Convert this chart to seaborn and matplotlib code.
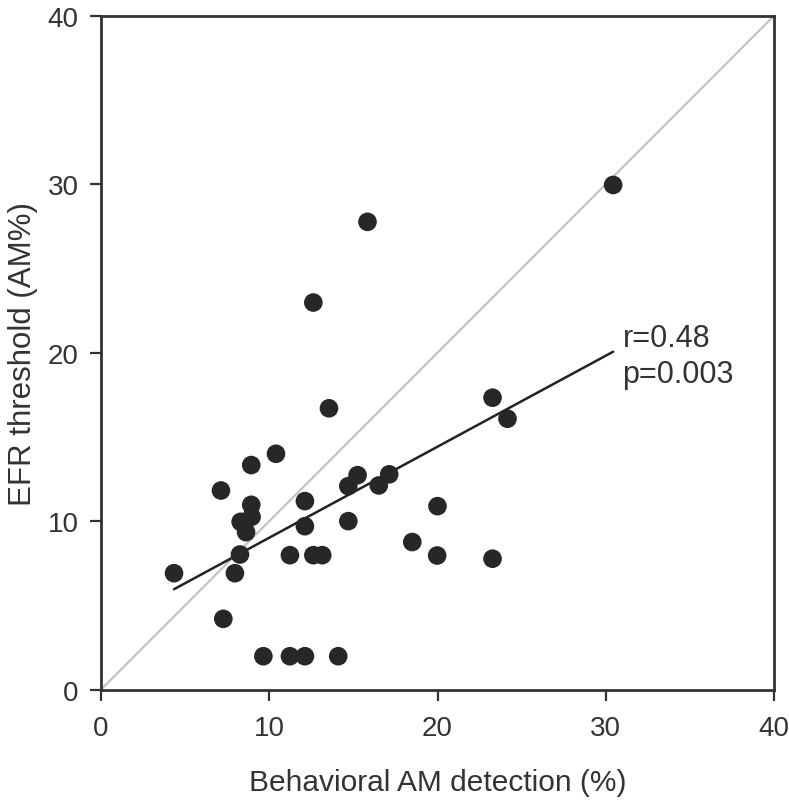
import numpy as np
import pandas as pd
import seaborn as sns
import matplotlib
matplotlib.use('Agg')
import matplotlib.pyplot as plt

# behavioral AM detection (%) vs EFR threshold (AM%)
behav = [13.55, 10.4, 8.93, 7.13, 8.93, 8.95, 8.3, 8.62, 8.26, 4.34,
         7.96, 7.27, 9.65, 11.23, 12.12, 14.1, 12.12, 12.12, 11.23, 12.62,
         13.15, 14.7, 14.7, 15.25, 16.51, 17.13, 18.5, 20.0, 19.98, 23.27,
         24.16, 23.27, 12.62, 15.84, 30.44]
efr = [16.7, 14.0, 13.33, 11.82, 10.97, 10.26, 9.96, 9.35, 8.02, 6.91,
       6.91, 4.2, 1.98, 1.98, 1.98, 1.98, 11.19, 9.7, 7.98, 7.98,
       7.98, 10.0, 12.08, 12.73, 12.12, 12.78, 8.76, 10.89, 7.96, 17.33,
       16.08, 7.77, 22.98, 27.77, 29.96]
ticks = [0, 10, 20, 30, 40]
stats_text = 'r=0.48\np=0.003'

df = pd.DataFrame({'behav': behav, 'efr': efr})

sns.set_style('ticks')
plt.rcParams['font.family'] = ['Liberation Sans', 'DejaVu Sans']
dark = '#333333'

fig = plt.figure(figsize=(7.89, 8.03), dpi=100)
ax = fig.add_axes([0.128, 0.140, 0.853, 0.839])

# identity line
ax.plot(ticks, ticks, color='#c4c4c4', lw=1.6, zorder=1)

sns.regplot(data=df, x='behav', y='efr', ax=ax, ci=None,
            scatter_kws=dict(s=180, color='#272727', edgecolor='none', alpha=1, zorder=3),
            line_kws=dict(color='#222222', lw=1.8, zorder=2))

ax.set_xlim(0, 40)
ax.set_ylim(0, 40)
ax.set_xticks(ticks)
ax.set_yticks(ticks)
ax.tick_params(direction='out', length=8, width=1.6, color=dark, labelsize=20,
               labelcolor=dark)
ax.tick_params(axis='x', pad=10)
ax.tick_params(axis='y', pad=8)
for s in ax.spines.values():
    s.set_color(dark)
    s.set_linewidth(2)

ax.set_xlabel('Behavioral AM detection (%)', fontsize=21.5, color=dark, labelpad=20)
ax.set_ylabel('EFR threshold (AM%)', fontsize=22.5, color=dark, labelpad=7)

ax.text(31.0, 19.8, stats_text, fontsize=22, color=dark, va='center', ha='left',
        linespacing=1.25)

fig.savefig('out.png', dpi=100)
